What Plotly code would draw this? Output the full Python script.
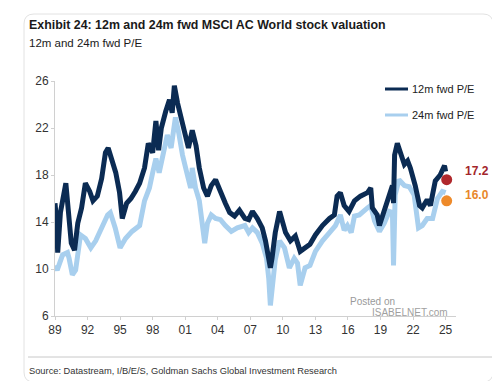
import plotly.graph_objects as go

# 12m fwd P/E (decimal year, value)
pe12_x = [1989.0, 1989.1, 1989.25, 1989.5, 1990.0, 1990.25, 1990.5, 1990.8, 1991.1, 1991.45,
          1991.8, 1992.2, 1992.5, 1992.9, 1993.3, 1993.65, 1993.9, 1994.2, 1994.6, 1994.95,
          1995.2, 1995.6, 1996.0, 1996.4, 1996.8, 1997.25, 1997.6, 1998.0, 1998.3, 1998.55,
          1998.8, 1999.2, 1999.55, 1999.8, 2000.0, 2000.3, 2000.65, 2001.0, 2001.3, 2001.65,
          2002.0, 2002.3, 2002.7, 2003.05, 2003.4, 2003.8, 2004.25, 2004.7, 2005.1, 2005.55,
          2006.0, 2006.5, 2006.85, 2007.2, 2007.65, 2008.1, 2008.4, 2008.7, 2008.85, 2009.0,
          2009.3, 2009.7, 2009.95, 2010.25, 2010.7, 2011.15, 2011.6, 2012.05, 2012.5, 2013.0,
          2013.65, 2014.3, 2014.75, 2015.0, 2015.3, 2015.65, 2016.1, 2016.6, 2017.15, 2017.8,
          2018.1, 2018.25, 2018.7, 2018.9, 2019.35, 2019.8, 2020.1, 2020.2, 2020.3, 2020.55,
          2020.85, 2021.2, 2021.5, 2021.75, 2022.2, 2022.6, 2022.85, 2023.3, 2023.6, 2024.05,
          2024.5, 2024.9, 2025.0]
pe12_y = [15.6, 14.6, 11.4, 14.8, 17.3, 15.2, 12.2, 11.6, 13.9, 15.2,
          17.3, 16.6, 15.8, 16.2, 17.7, 19.9, 20.3, 19.4, 18.2, 16.5,
          14.3, 15.6, 16.0, 16.6, 17.3, 18.6, 20.7, 19.9, 22.6, 20.1,
          22.0, 23.4, 24.4, 23.3, 25.6, 24.1, 22.9, 21.3, 20.3, 21.8,
          20.5, 18.6, 16.9, 16.2, 17.1, 17.6, 16.5, 15.6, 14.8, 14.5,
          15.0, 14.3, 14.2, 14.9, 14.3, 13.5, 12.4, 10.5, 10.1, 10.9,
          13.1, 14.9, 14.2, 13.1, 12.4, 12.8, 11.5, 11.8, 12.1, 12.9,
          13.7, 14.3, 14.6, 16.2, 16.5, 15.4, 14.9, 15.8, 16.2, 16.5,
          16.9, 15.2, 14.6, 13.7, 14.9, 16.3, 17.1, 15.6, 19.7, 20.7,
          20.0, 18.9, 19.2, 18.6, 17.1, 15.4, 15.2, 15.9, 15.4, 17.5,
          18.0, 18.8, 18.3]

# 24m fwd P/E
pe24_x = [1989.0, 1989.2, 1989.7, 1990.15, 1990.3, 1990.6, 1990.9, 1991.35, 1991.8, 1992.3,
          1992.75, 1993.4, 1993.85, 1994.1, 1994.55, 1995.0, 1995.5, 1996.1, 1996.8, 1997.25,
          1997.7, 1998.0, 1998.3, 1998.6, 1999.0, 1999.35, 1999.7, 2000.1, 2000.4, 2000.75,
          2001.2, 2001.5, 2001.65, 2001.95, 2002.3, 2002.8, 2003.05, 2003.4, 2003.8, 2004.25,
          2004.7, 2005.25, 2005.8, 2006.5, 2006.85, 2007.2, 2007.65, 2008.1, 2008.5, 2008.7,
          2008.85, 2009.0, 2009.3, 2009.7, 2010.15, 2010.6, 2011.05, 2011.35, 2011.6, 2012.05,
          2012.5, 2013.0, 2013.65, 2014.3, 2014.85, 2015.3, 2015.65, 2015.95, 2016.3, 2016.6,
          2017.05, 2017.8, 2018.1, 2018.45, 2018.9, 2019.35, 2019.8, 2020.1, 2020.2, 2020.35,
          2020.7, 2021.2, 2021.65, 2022.1, 2022.5, 2022.85, 2023.3, 2023.8, 2024.25, 2024.7,
          2025.0]
pe24_y = [10.3, 9.9, 11.2, 11.4, 10.9, 9.5, 9.9, 12.9, 12.6, 11.8,
          12.4, 13.7, 14.6, 14.8, 13.5, 11.8, 12.6, 13.2, 13.7, 15.8,
          16.9, 18.2, 19.4, 18.2, 20.0, 21.4, 20.3, 22.9, 21.6, 19.7,
          18.0, 16.9, 18.6, 16.9, 15.8, 12.2, 13.9, 14.6, 14.3, 14.2,
          13.7, 13.2, 13.5, 13.7, 13.1, 13.5, 13.1, 12.2, 10.9, 9.2,
          6.9, 8.0, 10.8, 12.4, 11.8, 10.1, 10.9, 10.5, 8.6, 10.1,
          10.3, 11.5, 12.4, 13.1, 13.7, 14.6, 13.3, 13.7, 13.1, 14.5,
          14.6, 15.2, 15.4, 14.1, 13.2, 13.9, 14.9, 14.8, 10.3, 16.3,
          17.6, 17.1, 17.0, 16.3, 13.5, 13.7, 14.3, 14.3, 16.0, 16.6,
          16.5]

# latest readings
latest_x = [2025.1, 2025.1]
latest_marker_y = [17.6, 15.8]
latest_labels = ["17.2", "16.0"]
latest_colors = ["#B0282C", "#EE8A2A"]
label_colors = ["#A3262B", "#E8872B"]

tick_years = [1989, 1992, 1995, 1998, 2001, 2004, 2007, 2010, 2013, 2016, 2019, 2022, 2025]
tick_text = ["89", "92", "95", "98", "01", "04", "07", "10", "13", "16", "19", "22", "25"]
y_ticks = [6, 10, 14, 18, 22, 26]

DARK = "#0B2B53"
LIGHT = "#A8CFEE"

fig = go.Figure()
fig.add_trace(go.Scatter(x=pe24_x, y=pe24_y, mode="lines", line=dict(color=LIGHT, width=5),
                         name="24m fwd P/E", showlegend=False))
fig.add_trace(go.Scatter(x=pe12_x, y=pe12_y, mode="lines", line=dict(color=DARK, width=5),
                         name="12m fwd P/E", showlegend=False))
fig.add_trace(go.Scatter(x=latest_x, y=latest_marker_y, mode="markers",
                         marker=dict(color=latest_colors, size=11), showlegend=False,
                         cliponaxis=False))

L, R, T, B = 47, 448, 73, 308
W, H = 500, 381
def px(x):
    return (x - L) / (R - L)
def py(y):
    return (B - y) / (B - T)

shapes = []
# card border (rounded)
x0, x1, y0, y1, r = 16, 485, 6, 374, 10
path = (f"M{px(x0 + r)},{py(y0)} L{px(x1 - r)},{py(y0)} Q{px(x1)},{py(y0)} {px(x1)},{py(y0 + r)} "
        f"L{px(x1)},{py(y1 - r)} Q{px(x1)},{py(y1)} {px(x1 - r)},{py(y1)} "
        f"L{px(x0 + r)},{py(y1)} Q{px(x0)},{py(y1)} {px(x0)},{py(y1 - r)} "
        f"L{px(x0)},{py(y0 + r)} Q{px(x0)},{py(y0)} {px(x0 + r)},{py(y0)} Z")
shapes.append(dict(type="path", path=path, xref="paper", yref="paper",
                   line=dict(color="#E2E2E2", width=1), layer="below"))
# separator above source
shapes.append(dict(type="line", xref="paper", yref="paper", x0=px(20), x1=px(485),
                   y0=py(349), y1=py(349), line=dict(color="#C8C8C8", width=1)))
# legend lines
shapes.append(dict(type="line", xref="paper", yref="paper", x0=px(377), x1=px(400),
                   y0=py(81), y1=py(81), line=dict(color=DARK, width=3)))
shapes.append(dict(type="line", xref="paper", yref="paper", x0=px(377), x1=px(400),
                   y0=py(107), y1=py(107), line=dict(color=LIGHT, width=3)))

SANS = "Liberation Sans, Arial, sans-serif"
annotations = [
    dict(text="<b>Exhibit 24: 12m and 24m fwd MSCI AC World stock valuation</b>",
         xref="paper", yref="paper", x=px(19), y=py(17), xanchor="left", yanchor="middle",
         showarrow=False, font=dict(family=SANS, size=12.4, color="#1A1A1A")),
    dict(text="12m and 24m fwd P/E", xref="paper", yref="paper", x=px(19), y=py(35),
         xanchor="left", yanchor="middle", showarrow=False,
         font=dict(family=SANS, size=11.5, color="#1A1A1A")),
    dict(text="Source: Datastream, I/B/E/S, Goldman Sachs Global Investment Research",
         xref="paper", yref="paper", x=px(19), y=py(363), xanchor="left", yanchor="middle",
         showarrow=False, font=dict(family=SANS, size=9.3, color="#333333")),
    dict(text="12m fwd P/E", xref="paper", yref="paper", x=px(402), y=py(81),
         xanchor="left", yanchor="middle", showarrow=False,
         font=dict(family=SANS, size=11, color="#222222")),
    dict(text="24m fwd P/E", xref="paper", yref="paper", x=px(402), y=py(107),
         xanchor="left", yanchor="middle", showarrow=False,
         font=dict(family=SANS, size=11, color="#222222")),
    dict(text="Posted on", xref="paper", yref="paper", x=px(364), y=py(293),
         xanchor="center", yanchor="middle", showarrow=False,
         font=dict(family=SANS, size=10, color="#9A9A9A")),
    dict(text="ISABELNET.com", xref="paper", yref="paper", x=px(362), y=py(304),
         xanchor="left", yanchor="middle", showarrow=False,
         font=dict(family=SANS, size=10, color="#A0A0A0")),
]
for lab, col, yy in zip(latest_labels, label_colors, [163, 187]):
    annotations.append(dict(text=f"<b>{lab}</b>", xref="paper", yref="paper", x=px(469), y=py(yy),
                            xanchor="center", yanchor="middle", showarrow=False,
                            font=dict(family=SANS, size=12, color=col)))

fig.update_layout(
    width=W, height=H,
    margin=dict(l=L, r=W - R, t=T, b=H - B, pad=0),
    paper_bgcolor="white", plot_bgcolor="white",
    shapes=shapes, annotations=annotations,
    xaxis=dict(range=[1989, 1989 + (R - L) / 10.85], tickvals=tick_years, ticktext=tick_text,
               showgrid=False, zeroline=False, showline=True, linecolor="#D0D0D0", linewidth=1,
               ticks="outside", ticklen=3, tickcolor="#D0D0D0",
               tickfont=dict(family=SANS, size=12, color="#333333")),
    yaxis=dict(range=[6, 26], tickvals=y_ticks, showgrid=False, zeroline=False,
               showline=True, linecolor="#D0D0D0", linewidth=1, ticks="outside", ticklen=3,
               tickcolor="#D0D0D0",
               tickfont=dict(family=SANS, size=12, color="#333333")),
)

fig.write_html("out.html")
